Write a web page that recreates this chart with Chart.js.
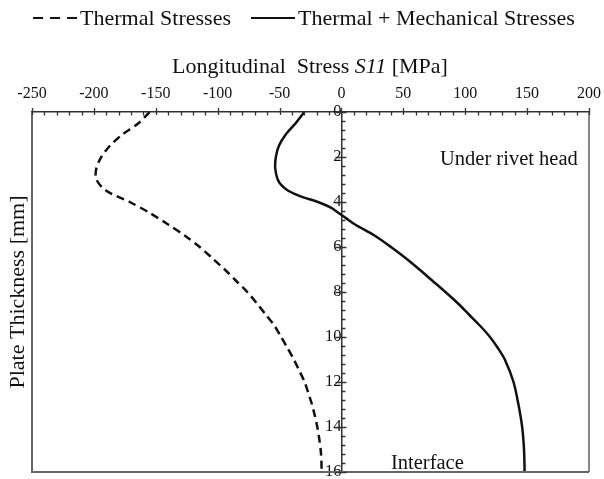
<!DOCTYPE html>
<html>
<head>
<meta charset="utf-8">
<script src="https://cdn.jsdelivr.net/npm/chart.js@4"></script>
<style>
  html, body { margin: 0; padding: 0; background: #fff; }
  canvas { display: block; }
</style>
</head>
<body>
<canvas id="c" width="604" height="479"></canvas>
<script>
// ---- data ----
const thermalThickness = [0,0.5,1,1.5,2,2.5,3,3.5,4,4.5,5,5.5,6,6.5,7,7.5,8,8.5,9,9.5,10,10.5,11,11.5,12,12.5,13,13.5,14,14.5,15,15.5,16];
const thermalStress = [-155,-164,-177,-187,-194,-198,-198,-190,-171,-154.4,-140,-126.4,-114.5,-104.3,-94.3,-85.2,-76.1,-68.4,-61.2,-54.1,-48.7,-43.5,-38.5,-34,-29.8,-26.7,-23.8,-21.5,-19.5,-18,-16.8,-16.2,-16];

const combinedThickness = [0,0.5,1,1.5,2,2.5,3,3.25,3.5,3.75,4,4.25,4.5,4.75,5,5.5,6,6.5,7,7.5,8,8.5,9,9.5,10,10.5,11,12,13,14,15,16];
const combinedStress = [-30,-37,-45,-50.5,-53,-53.5,-51.5,-48.5,-43,-33,-19,-8.5,-2,4.5,11,27,40,52,63,73.5,84,94,103,112,120,126.5,132,139,143,146,147.5,148];

const xTickValues = [-250,-200,-150,-100,-50,0,50,100,150,200];
const yTickValues = [0,2,4,6,8,10,12,14,16];
const seriesNames = ['Thermal Stresses', 'Thermal + Mechanical Stresses'];
const xTitleParts = ['Longitudinal  Stress ', 'S11', ' [MPa]'];
const yTitle = 'Plate Thickness [mm]';
const notes = ['Under rivet head', 'Interface'];
const xMinorStep = 10;
const yMinorStep = 0.4;

const SERIF = '"Liberation Serif", "Times New Roman", serif';

function toPoints(xs, ys) { return xs.map((v, i) => ({ x: v, y: ys[i] })); }
function noPad(s) { s.paddingLeft = 0; s.paddingRight = 0; s.paddingTop = 0; s.paddingBottom = 0; }

const deco = {
  id: 'deco',
  afterDraw(chart) {
    const { ctx, chartArea: a, scales: { x, y } } = chart;
    ctx.save();
    // box edges
    ctx.strokeStyle = '#666';
    ctx.lineWidth = 2;
    ctx.beginPath();
    ctx.moveTo(a.left, a.top);
    ctx.lineTo(a.left, a.bottom);
    ctx.lineTo(a.right, a.bottom);
    ctx.stroke();
    ctx.strokeStyle = '#444';
    ctx.lineWidth = 1.3;
    ctx.beginPath();
    ctx.moveTo(a.right, a.top);
    ctx.lineTo(a.right, a.bottom);
    ctx.stroke();

    // x ticks (top axis)
    ctx.strokeStyle = '#333';
    ctx.lineWidth = 1.3;
    const xMin = xTickValues[0], xMax = xTickValues[xTickValues.length - 1];
    const nX = Math.round((xMax - xMin) / xMinorStep);
    ctx.beginPath();
    for (let i = 0; i <= nX; i++) {
      const v = xMin + i * xMinorStep;
      const px = Math.round(x.getPixelForValue(v)) + 0.5;
      if (xTickValues.includes(v)) {
        ctx.moveTo(px, a.top - 4);
        ctx.lineTo(px, a.top + 3);
      } else {
        ctx.moveTo(px, a.top);
        ctx.lineTo(px, a.top + 3.5);
      }
    }
    ctx.stroke();

    // y ticks along x = 0
    const x0 = x.getPixelForValue(0);
    const yMin = yTickValues[0], yMax = yTickValues[yTickValues.length - 1];
    const nY = Math.round((yMax - yMin) / yMinorStep);
    ctx.beginPath();
    for (let i = 0; i <= nY; i++) {
      const v = yMin + i * yMinorStep;
      const py = Math.round(y.getPixelForValue(v)) + 0.5;
      const major = yTickValues.some(t => Math.abs(t - v) < 1e-6);
      if (major) {
        ctx.moveTo(x0 - 6, py);
        ctx.lineTo(x0 + 5, py);
      } else {
        ctx.moveTo(x0, py);
        ctx.lineTo(x0 + 4, py);
      }
    }
    ctx.stroke();

    // axis title (top)
    ctx.fillStyle = '#111';
    ctx.textBaseline = 'alphabetic';
    ctx.textAlign = 'left';
    const fN = '22px ' + SERIF, fI = 'italic 22px ' + SERIF;
    ctx.font = fN; const w0 = ctx.measureText(xTitleParts[0]).width; const w2 = ctx.measureText(xTitleParts[2]).width;
    ctx.font = fI; const w1 = ctx.measureText(xTitleParts[1]).width;
    let tx = 310 - (w0 + w1 + w2) / 2;
    ctx.font = fN; ctx.fillText(xTitleParts[0], tx, 73); tx += w0;
    ctx.font = fI; ctx.fillText(xTitleParts[1], tx, 73); tx += w1;
    ctx.font = fN; ctx.fillText(xTitleParts[2], tx, 73);

    // y title
    ctx.save();
    ctx.translate(18, 292);
    ctx.rotate(-Math.PI / 2);
    ctx.font = '22px ' + SERIF;
    ctx.textAlign = 'center';
    ctx.textBaseline = 'middle';
    ctx.fillText(yTitle, 0, 0);
    ctx.restore();

    // annotations
    ctx.font = '20.5px ' + SERIF;
    ctx.textAlign = 'left';
    ctx.textBaseline = 'alphabetic';
    ctx.fillText(notes[0], 440, 165);
    ctx.fillText(notes[1], 391, 469);

    // legend
    ctx.font = '22px ' + SERIF;
    const symW = 44, gap = 3, itemGap = 20;
    const t1 = ctx.measureText(seriesNames[0]).width;
    const t2 = ctx.measureText(seriesNames[1]).width;
    const total = symW + gap + t1 + itemGap + symW + gap + t2;
    let lx = 304 - total / 2;
    const ly = 18;
    ctx.strokeStyle = '#111';
    ctx.lineWidth = 2.2;
    ctx.setLineDash([10, 7]);
    ctx.beginPath(); ctx.moveTo(lx, ly); ctx.lineTo(lx + symW, ly); ctx.stroke();
    ctx.setLineDash([]);
    ctx.textBaseline = 'middle';
    ctx.fillText(seriesNames[0], lx + symW + gap, ly + 1);
    lx += symW + gap + t1 + itemGap;
    ctx.beginPath(); ctx.moveTo(lx, ly); ctx.lineTo(lx + symW, ly); ctx.stroke();
    ctx.fillText(seriesNames[1], lx + symW + gap, ly + 1);

    ctx.restore();
  }
};

new Chart(document.getElementById('c'), {
  type: 'scatter',
  data: {
    datasets: [
      {
        label: seriesNames[0],
        data: toPoints(thermalStress, thermalThickness),
        showLine: true,
        borderColor: '#111',
        borderWidth: 2.5,
        borderDash: [8, 5],
        pointRadius: 0,
        tension: 0.3,
        fill: false
      },
      {
        label: seriesNames[1],
        data: toPoints(combinedStress, combinedThickness),
        showLine: true,
        borderColor: '#111',
        borderWidth: 2.5,
        pointRadius: 0,
        tension: 0.3,
        fill: false
      }
    ]
  },
  options: {
    responsive: false,
    devicePixelRatio: 1,
    animation: false,
    layout: { padding: { left: 32, right: 15, bottom: 7, top: 82 } },
    plugins: { legend: { display: false }, tooltip: { enabled: false }, title: { display: false } },
    scales: {
      x: {
        type: 'linear',
        position: 'top',
        min: xTickValues[0],
        max: xTickValues[xTickValues.length - 1],
        afterBuildTicks: s => { s.ticks = xTickValues.map(v => ({ value: v })); },
        afterFit: s => { s.height = 30; noPad(s); },
        ticks: {
          color: '#111',
          padding: 9,
          maxRotation: 0,
          font: { family: SERIF, size: 16 }
        },
        grid: { drawOnChartArea: false, drawTicks: false },
        border: { display: true, color: '#333', width: 1.5 }
      },
      y: {
        type: 'linear',
        position: { x: 0 },
        reverse: true,
        min: yTickValues[0],
        max: yTickValues[yTickValues.length - 1],
        afterBuildTicks: s => { s.ticks = yTickValues.map(v => ({ value: v })); },
        afterFit: s => { noPad(s); },
        ticks: {
          color: '#111',
          padding: 15,
          font: { family: SERIF, size: 16.5 }
        },
        grid: { drawOnChartArea: false, drawTicks: false },
        border: { display: true, color: '#333', width: 1.5 }
      }
    }
  },
  plugins: [deco]
});
</script>
</body>
</html>
